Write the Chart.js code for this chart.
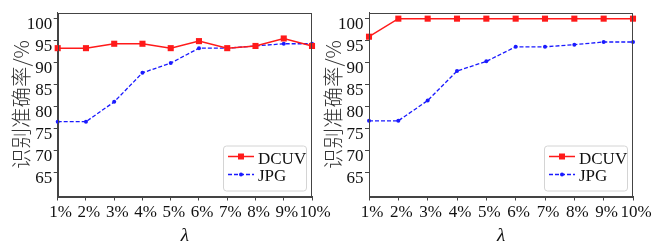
<!DOCTYPE html>
<html>
<head>
<meta charset="utf-8">
<script src="https://cdn.jsdelivr.net/npm/chart.js@4.4.1/dist/chart.umd.min.js"></script>
<style>
    html, body { margin: 0; padding: 0; background: #fff; }
    #wrap { position: relative; width: 665px; height: 244px; overflow: hidden; }
    canvas { position: absolute; top: 0; }
</style>
</head>
<body>
<div id="wrap">
    <canvas id="graficoEsq" width="332" height="244" style="left:0"></canvas>
    <canvas id="graficoDir" width="343" height="244" style="left:322px"></canvas>
</div>
<script>
// ======================= DADOS =======================
const lambdas = ['1%', '2%', '3%', '4%', '5%', '6%', '7%', '8%', '9%', '10%'];

// gráfico da esquerda
const dcuvEsq = [93.3, 93.3, 94.3, 94.3, 93.3, 94.9, 93.3, 93.8, 95.5, 93.8];
const jpgEsq = [76.6, 76.6, 81.1, 87.7, 89.9, 93.3, 93.3, 93.8, 94.3, 94.3];

// gráfico da direita
const dcuvDir = [95.9, 100, 100, 100, 100, 100, 100, 100, 100, 100];
const jpgDir = [76.8, 76.8, 81.4, 88.1, 90.3, 93.6, 93.6, 94.1, 94.7, 94.7];

const yTicks = [65, 70, 75, 80, 85, 90, 95, 100];
const yMin = 59.6;
const yMax = 101.4;

const serif = "'Liberation Serif', 'Times New Roman', serif";

// moldura em volta da área do gráfico
const molduraPlugin = {
    id: 'moldura',
    afterDatasetsDraw(chart) {
        const { ctx, chartArea: a } = chart;
        ctx.save();
        ctx.strokeStyle = '#444';
        ctx.lineWidth = 1;
        ctx.strokeRect(Math.round(a.left) + 0.5, Math.round(a.top) + 0.5,
            Math.round(a.right - a.left) - 1, Math.round(a.bottom - a.top));
        ctx.restore();
    },
};

// legenda desenhada dentro da área (canto inferior direito)
const legendaPlugin = {
    id: 'legendaInterna',
    afterDraw(chart) {
        const { ctx, chartArea: a } = chart;
        const w = 83, h = 45;
        const bx = a.right - 6 - w;
        const by = a.bottom - 6 - h;
        ctx.save();
        ctx.beginPath();
        ctx.roundRect(bx + 0.5, by + 0.5, w, h, 3);
        ctx.fillStyle = 'rgba(255,255,255,0.85)';
        ctx.fill();
        ctx.strokeStyle = '#d4d4d4';
        ctx.lineWidth = 1;
        ctx.stroke();

        chart.data.datasets.forEach((ds, i) => {
            const ly = by + 11 + i * 18;
            ctx.beginPath();
            ctx.setLineDash(ds.borderDash || []);
            ctx.strokeStyle = ds.borderColor;
            ctx.lineWidth = ds.borderWidth;
            ctx.moveTo(bx + 5, ly);
            ctx.lineTo(bx + 31, ly);
            ctx.stroke();
            ctx.setLineDash([]);
            ctx.fillStyle = ds.borderColor;
            if (ds.pointStyle === 'rect') {
                ctx.fillRect(bx + 15, ly - 3, 6, 6);
            } else {
                ctx.beginPath();
                ctx.arc(bx + 18, ly, 2, 0, Math.PI * 2);
                ctx.fill();
            }
            ctx.fillStyle = '#111';
            ctx.font = '17px ' + serif;
            ctx.textBaseline = 'middle';
            ctx.fillText(ds.label, bx + 35, ly + 3.5 - i * 1.5);
        });
        ctx.restore();
    },
};

function montarGrafico(id, dcuv, jpg, larguraY, padDireita, padTituloY) {
    const canvas = document.getElementById(id);
    const ctx = canvas.getContext('2d');

    new Chart(ctx, {
        type: 'line',
        data: {
            labels: lambdas,
            datasets: [{
                label: 'DCUV',
                data: dcuv,
                borderColor: '#ff1a1a',
                backgroundColor: '#ff1a1a',
                borderWidth: 1.5,
                pointStyle: 'rect',
                pointRadius: 4.3,
                pointBorderWidth: 0,
                tension: 0,
                clip: false,
            }, {
                label: 'JPG',
                data: jpg,
                borderColor: '#1a1aff',
                backgroundColor: '#1a1aff',
                borderWidth: 1.3,
                borderDash: [4, 2],
                pointStyle: 'circle',
                pointRadius: 2,
                pointBorderWidth: 0,
                tension: 0,
                clip: false,
            }],
        },
        options: {
            responsive: false,
            animation: false,
            devicePixelRatio: 1,
            layout: { padding: { left: 0, right: padDireita, top: 12.5, bottom: 0 } },
            plugins: {
                legend: { display: false },
                tooltip: { enabled: false },
            },
            scales: {
                x: {
                    type: 'category',
                    offset: false,
                    grid: { display: true, drawOnChartArea: false, tickLength: 4, color: '#444' },
                    border: { display: true, color: '#444' },
                    ticks: {
                        autoSkip: false,
                        maxRotation: 0,
                        padding: 2,
                        labelOffset: 3,
                        color: '#111',
                        font: { family: serif, size: 17 },
                    },
                    title: {
                        display: true,
                        text: 'λ',
                        color: '#111',
                        padding: 0,
                        font: { family: serif, size: 19, style: 'italic', lineHeight: 0.8 },
                    },
                    afterFit: (s) => { s.height = 47.5; },
                },
                y: {
                    min: yMin,
                    max: yMax,
                    grid: { display: true, drawOnChartArea: false, tickLength: 4, color: '#444' },
                    border: { display: true, color: '#444' },
                    afterBuildTicks: (s) => { s.ticks = yTicks.map((v) => ({ value: v })); },
                    ticks: {
                        padding: 1.5,
                        labelOffset: 6,
                        color: '#111',
                        font: { family: serif, size: 17 },
                    },
                    title: {
                        display: true,
                        text: '识别准确率/%',
                        color: '#333',
                        padding: { top: padTituloY, bottom: 0 },
                        font: { family: "'Noto Sans CJK SC', sans-serif", size: 20.5, weight: 300, lineHeight: 1 },
                    },
                    afterFit: (s) => { s.width = larguraY; },
                },
            },
        },
        plugins: [molduraPlugin, legendaPlugin],
    });
}

document.addEventListener('DOMContentLoaded', () => {
    montarGrafico('graficoEsq', dcuvEsq, jpgEsq, 57.7, 20, 11);
    montarGrafico('graficoDir', dcuvDir, jpgDir, 47, 32, 0.5);
});
</script>
</body>
</html>
